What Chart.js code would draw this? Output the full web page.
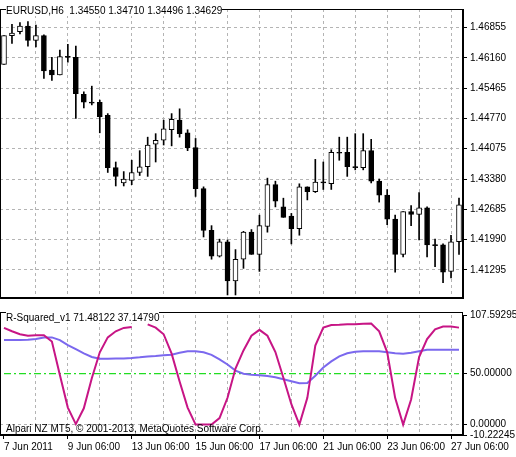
<!DOCTYPE html>
<html><head><meta charset="utf-8">
<script src="https://cdn.jsdelivr.net/npm/chart.js@4.4.1/dist/chart.umd.min.js"></script>
<style>
body{margin:0;background:#fff;width:516px;height:457px;overflow:hidden;position:relative;font-family:"Liberation Sans",sans-serif;}
canvas{position:absolute;left:0}
.t{position:absolute;font-size:10px;color:#000;white-space:pre;background:#fff;line-height:11px}
</style></head><body>
<canvas id="c1" width="516" height="307" style="top:0"></canvas>
<canvas id="c2" width="516" height="151" style="top:306px"></canvas>
<div class="t" style="left:6px;top:5px">EURUSD,H6  1.34550 1.34710 1.34496 1.34629</div>
<div class="t" style="left:6px;top:312px">R-Squared_v1 71.48122 37.14790</div>
<div class="t" style="left:6px;top:423px;background:transparent">Alpari NZ MT5, © 2001-2013, MetaQuotes Software Corp.</div>
<script>
const opens =[1.4601,1.4667,1.4676,1.4689,1.4656,1.4667,1.4588,1.4577,1.4619,1.4617,1.4532,1.4514,1.4514,1.4484,1.4364,1.4329,1.4335,1.4353,1.4366,1.4418,1.4427,1.4451,1.4473,1.4444,1.4410,1.4316,1.4220,1.4161,1.4194,1.4104,1.4154,1.4216,1.4165,1.4229,1.4325,1.4274,1.4253,1.4224,1.4320,1.4309,1.4331,1.4327,1.4399,1.4399,1.4366,1.4364,1.4403,1.4333,1.4301,1.4246,1.4165,1.4263,1.4257,1.4272,1.4187,1.4187,1.4126,1.4194];
const highs =[1.4667,1.4693,1.4697,1.4699,1.4691,1.4669,1.4617,1.4634,1.4647,1.4643,1.4538,1.4551,1.4519,1.4488,1.4377,1.4355,1.4381,1.4403,1.4434,1.4442,1.4473,1.4488,1.4499,1.4451,1.4431,1.4320,1.4231,1.4200,1.4198,1.4176,1.4218,1.4222,1.4255,1.4340,1.4333,1.4294,1.4259,1.4327,1.4320,1.4383,1.4377,1.4405,1.4434,1.4434,1.4442,1.4442,1.4429,1.4338,1.4314,1.4255,1.4263,1.4277,1.4307,1.4274,1.4200,1.4189,1.4209,1.4294];
const lows  =[1.4601,1.4649,1.4671,1.4643,1.4641,1.4569,1.4564,1.4577,1.4606,1.4477,1.4501,1.4508,1.4444,1.4353,1.4322,1.4322,1.4325,1.4346,1.4344,1.4377,1.4416,1.4414,1.4434,1.4403,1.4298,1.4205,1.4154,1.4159,1.4072,1.4072,1.4133,1.4165,1.4126,1.4216,1.4274,1.4250,1.4189,1.4209,1.4290,1.4307,1.4314,1.4314,1.4381,1.4344,1.4359,1.4359,1.4329,1.4285,1.4233,1.4124,1.4159,1.4231,1.4198,1.4159,1.4137,1.4100,1.4111,1.4165];
const closes=[1.4667,1.4673,1.4689,1.4656,1.4667,1.4586,1.4577,1.4619,1.4617,1.4534,1.4514,1.4512,1.4481,1.4364,1.4344,1.4338,1.4353,1.4366,1.4416,1.4427,1.4453,1.4475,1.4442,1.4410,1.4316,1.4220,1.4161,1.4194,1.4104,1.4154,1.4216,1.4165,1.4231,1.4325,1.4287,1.4250,1.4224,1.4320,1.4309,1.4331,1.4329,1.4399,1.4397,1.4366,1.4364,1.4403,1.4333,1.4301,1.4246,1.4165,1.4263,1.4257,1.4272,1.4187,1.4185,1.4124,1.4194,1.4279];
const rsqMain=[95,91.6,88.7,87.2,87.8,87.8,81.5,48.7,16.7,0.5,16,45.5,71,85.6,91.6,94.9,95.8,null,98.4,95.2,88.7,69.6,42.3,16.7,0,0,0,6.4,26.3,55,72.8,87.2,93,87.2,71.2,46,20,0,26.3,77.6,95.2,97.8,98,98.4,98.4,99,99.3,91.6,71.2,26.3,0,24.7,66.3,84,93.6,96.2,96.2,95.2];
const rsqSignal=[83.1,83.1,83.1,83.3,84,85.5,85.6,83,78,74,70,66.4,64.7,64.7,64.8,65,65.4,66,66.8,67.3,68,68.6,70.5,72,72.1,71,68.5,64,59,53,50,49,48.5,47.8,46.5,44.5,42.5,40.6,40.8,48,56,62,67,70,71.5,72.1,72.1,72.1,71,70,69.6,70.5,72,73.4,73.4,73.4,73.4,73.4];
const levelValue=50;
const dateLabels={0:"7 Jun 2011",8:"9 Jun 06:00",16:"13 Jun 06:00",24:"15 Jun 06:00",32:"17 Jun 06:00",40:"21 Jun 06:00",48:"23 Jun 06:00",56:"27 Jun 06:00"};
const priceTicks=[1.41295,1.41990,1.42685,1.43380,1.44075,1.44770,1.45465,1.46160,1.46855];
const rsqTicks=[-10.22245,0,50,107.59295];

const N=opens.length;
const cats=opens.map((_,i)=>i);
const FONT={family:"Liberation Sans",size:10};
Chart.defaults.font=FONT;Chart.defaults.color='#000';
const fitY=s=>{s.width=53;};
const GRID='#b4b4b4';
const DASH=[3,3];
const xGrid={color:c=>(c.index%4===0&&c.index>0)?GRID:'rgba(0,0,0,0)',lineWidth:1,tickLength:0,drawTicks:false};

new Chart(document.getElementById('c1'),{
 type:'bar',
 data:{labels:cats,datasets:[
  {data:cats.map(i=>[lows[i],highs[i]]),backgroundColor:'#000',borderWidth:0,barThickness:1,grouped:false,order:2},
  {data:cats.map(i=>[opens[i],closes[i]]),backgroundColor:cats.map(i=>closes[i]>=opens[i]?'#fff':'#000'),borderColor:'#000',borderWidth:1,borderSkipped:false,barThickness:5,minBarLength:1,grouped:false,order:1}
 ]},
 options:{responsive:false,animation:false,events:[],
  layout:{padding:{top:1,bottom:1,left:0,right:0}},
  plugins:{legend:{display:false},tooltip:{enabled:false}},
  scales:{
   x:{offset:true,ticks:{display:false},grid:Object.assign({},xGrid,{offset:false}),border:{display:true,color:'#000',dash:DASH}},
   y:{position:'right',min:1.4065,max:1.4728,afterFit:fitY,
    afterBuildTicks:s=>{s.ticks=priceTicks.map(v=>({value:v}));},
    ticks:{autoSkip:false,padding:3,callback:v=>v.toFixed(5)},
    grid:{color:GRID,tickColor:'#000',tickLength:4},
    border:{color:'#000',dash:DASH}}
  }
 },
 plugins:[{id:'frame1',afterDraw(ch){const a=ch.chartArea,c=ch.ctx;c.save();c.strokeStyle='#000';c.lineWidth=1;c.strokeRect(a.left+0.5,a.top+0.5,a.right-a.left-1,a.bottom-a.top-1);c.restore();}}]
});

new Chart(document.getElementById('c2'),{
 type:'line',
 data:{labels:cats,datasets:[
  {data:rsqMain,borderColor:'#C71585',borderWidth:2,pointRadius:0,spanGaps:false,order:1},
  {data:rsqSignal,borderColor:'#7B68EE',borderWidth:2,pointRadius:0,order:2},
  {data:cats.map(()=>levelValue),borderColor:'#22DD22',borderWidth:1.3,borderDash:[7,3,2,3],pointRadius:0,order:3}
 ]},
 options:{responsive:false,animation:false,events:[],
  layout:{padding:{top:6,left:0,right:0}},
  plugins:{legend:{display:false},tooltip:{enabled:false}},
  scales:{
   x:{offset:true,afterFit:s=>{s.height=22;},
    ticks:{autoSkip:false,maxRotation:0,align:'start',padding:2,callback:(v,i)=>dateLabels[i]||''},
    grid:Object.assign({},xGrid,{offset:false,tickLength:4,drawTicks:true,tickColor:c=>(c.index%8===0)?'#000':'rgba(0,0,0,0)'}),
    border:{color:'#000',dash:DASH}},
   y:{position:'right',min:-10.22245,max:107.59295,afterFit:fitY,
    afterBuildTicks:s=>{s.ticks=rsqTicks.map(v=>({value:v}));},
    ticks:{autoSkip:false,padding:3,callback:v=>v.toFixed(5)},
    grid:{color:c=>c.tick&&c.tick.value===0?GRID:'rgba(0,0,0,0)',tickColor:'#000',tickLength:4},
    border:{color:'#000',dash:DASH}}
  }
 },
 plugins:[{id:'frame2',afterDraw(ch){const a=ch.chartArea,c=ch.ctx;c.save();c.strokeStyle='#000';c.lineWidth=1;c.strokeRect(a.left+0.5,a.top-2.5,a.right-a.left-1,a.bottom-a.top+2);c.restore();}}]
});
</script></body></html>
